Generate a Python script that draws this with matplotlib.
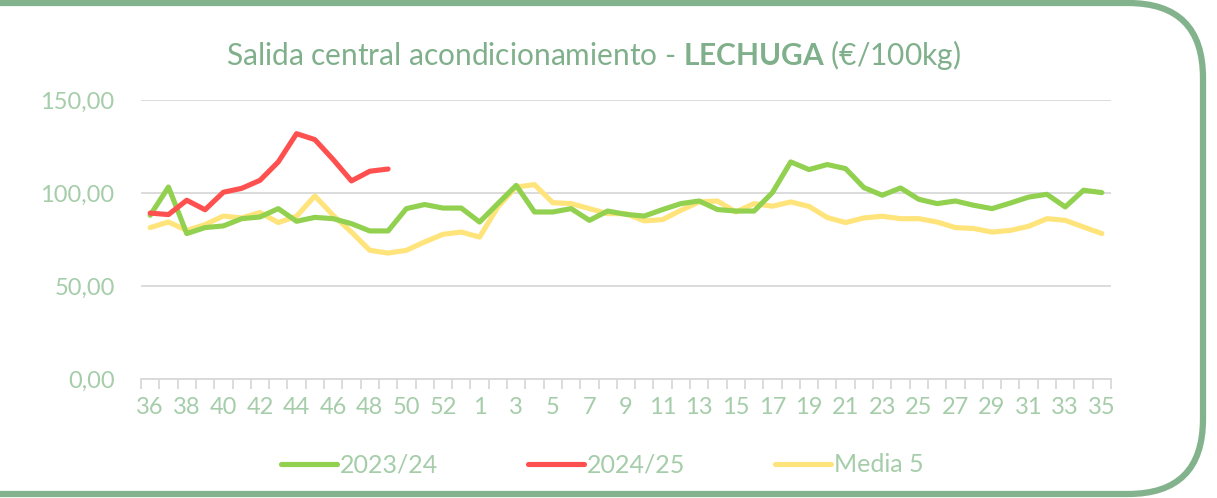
import matplotlib.pyplot as plt
from matplotlib.patches import FancyBboxPatch
from matplotlib.lines import Line2D
import numpy as np

# semanas de campaña (36..53, 1..35)
weeks = list(range(36, 54)) + list(range(1, 36))

s2324 = [88.0, 103.2, 78.2, 81.4, 82.3, 86.2, 87.1, 91.6, 84.8, 86.9,
         86.2, 83.5, 79.6, 79.6, 91.6, 93.8, 91.9, 91.9, 84.4, 94.3,
         104.1, 89.8, 89.8, 91.6, 85.3, 90.3, 88.5, 87.6, 91.1, 94.3,
         95.7, 91.1, 90.3, 90.3, 100.2, 116.7, 112.6, 115.3, 113.1, 102.9,
         98.8, 102.7, 96.6, 94.3, 95.7, 93.4, 91.6, 94.6, 97.8, 99.3,
         92.5, 101.5, 100.2]

s2425 = [89.2, 88.4, 96.1, 91.0, 100.4, 102.5, 106.8, 116.7, 131.9, 128.7,
         118.0, 106.5, 111.7, 112.9]

media5 = [81.4, 84.4, 79.9, 83.0, 87.6, 86.6, 89.5, 84.1, 87.5, 98.4,
          88.0, 79.0, 69.2, 67.7, 69.2, 73.7, 77.8, 79.0, 76.3, 92.5,
          103.2, 104.5, 94.8, 94.3, 91.6, 88.9, 88.9, 85.0, 85.7, 90.7,
          95.2, 95.7, 89.8, 94.3, 92.9, 95.2, 92.8, 86.8, 84.1, 86.6,
          87.5, 86.2, 86.2, 84.4, 81.4, 80.9, 79.0, 79.9, 82.1, 86.2,
          85.3, 81.7, 78.2]

yticks = [0, 50, 100, 150]
ytick_labels = ['0,00', '50,00', '100,00', '150,00']

W, H = 1217, 498
title_col = '#80B08B'
tick_col = '#A5CDA9'
border_col = '#82B38C'
FONT = 'Lato'

plt.rcParams['mathtext.fontset'] = 'custom'
plt.rcParams['mathtext.rm'] = FONT
plt.rcParams['mathtext.bf'] = FONT + ':bold'

fig = plt.figure(figsize=(W / 100, H / 100), dpi=100)

# marco redondeado
bg = fig.add_axes([0, 0, 1, 1])
bg.set_xlim(0, W)
bg.set_ylim(H, 0)
bg.axis('off')
frame = FancyBboxPatch((-150, 3), 1203 + 150, 491,
                       boxstyle='round,pad=0,rounding_size=75',
                       fill=False, ec=border_col, lw=4.5)
bg.add_patch(frame)

x0, x1, ytop, ybot = 141, 1111, 100, 379
ax = fig.add_axes([x0 / W, 1 - ybot / H, (x1 - x0) / W, (ybot - ytop) / H])

x = np.arange(len(weeks))
ax.plot(x[:len(s2324)], s2324, color='#92D050', lw=3.7, solid_capstyle='round',
        solid_joinstyle='round', label='2023/24', zorder=3)
ax.plot(x[:len(s2425)], s2425, color='#FF5050', lw=3.7, solid_capstyle='round',
        solid_joinstyle='round', label='2024/25', zorder=4)
ax.plot(x[:len(media5)], media5, color='#FFE47C', lw=3.7, solid_capstyle='round',
        solid_joinstyle='round', label='Media 5', zorder=2)

ax.set_xlim(-0.5, len(weeks) - 0.5)
ax.set_ylim(0, 150)
ax.set_yticks(yticks)
ax.set_yticklabels(ytick_labels)
ax.yaxis.grid(True, color='#D9D9D9', lw=1.3)
ax.set_axisbelow(True)
for s in ['top', 'right', 'left']:
    ax.spines[s].set_visible(False)
ax.spines['bottom'].set_color('#D9D9D9')
ax.spines['bottom'].set_linewidth(1.3)
ax.tick_params(axis='y', length=0, pad=19, labelsize=17, labelcolor=tick_col)

# marcas entre categorias, etiquetas cada dos semanas
ax.set_xticks(np.arange(-0.5, len(weeks), 1.0))
ax.set_xticklabels([])
ax.tick_params(axis='x', which='major', length=7, width=1.3, color='#D9D9D9')
ax.set_xticks(x[::2], minor=True)
ax.set_xticklabels([str(w) for w in weeks[::2]], minor=True)
ax.tick_params(axis='x', which='minor', length=0, pad=13, labelsize=17,
               labelcolor=tick_col)
for lab in ax.get_xticklabels(minor=True) + ax.get_yticklabels():
    lab.set_fontfamily(FONT)

fig.text(0.488, 1 - 55 / H,
         r'Salida central acondicionamiento - $\mathbf{LECHUGA}$ (€/100kg)',
         ha='center', va='center', fontsize=21.5, color=title_col, family=FONT)

handles = [Line2D([], [], color='#92D050', lw=3.7, solid_capstyle='round'),
           Line2D([], [], color='#FF5050', lw=3.7, solid_capstyle='round'),
           Line2D([], [], color='#FFE47C', lw=3.7, solid_capstyle='round')]
leg = fig.legend(handles, ['2023/24', '2024/25', 'Media 5'], loc='center',
                 bbox_to_anchor=(0.4947, 1 - 465 / H), ncol=3, frameon=False,
                 handlelength=2.25, handletextpad=0.1, columnspacing=3.6,
                 prop={'family': FONT, 'size': 18})
for t in leg.get_texts():
    t.set_color(tick_col)

fig.savefig('out.png', dpi=100)
